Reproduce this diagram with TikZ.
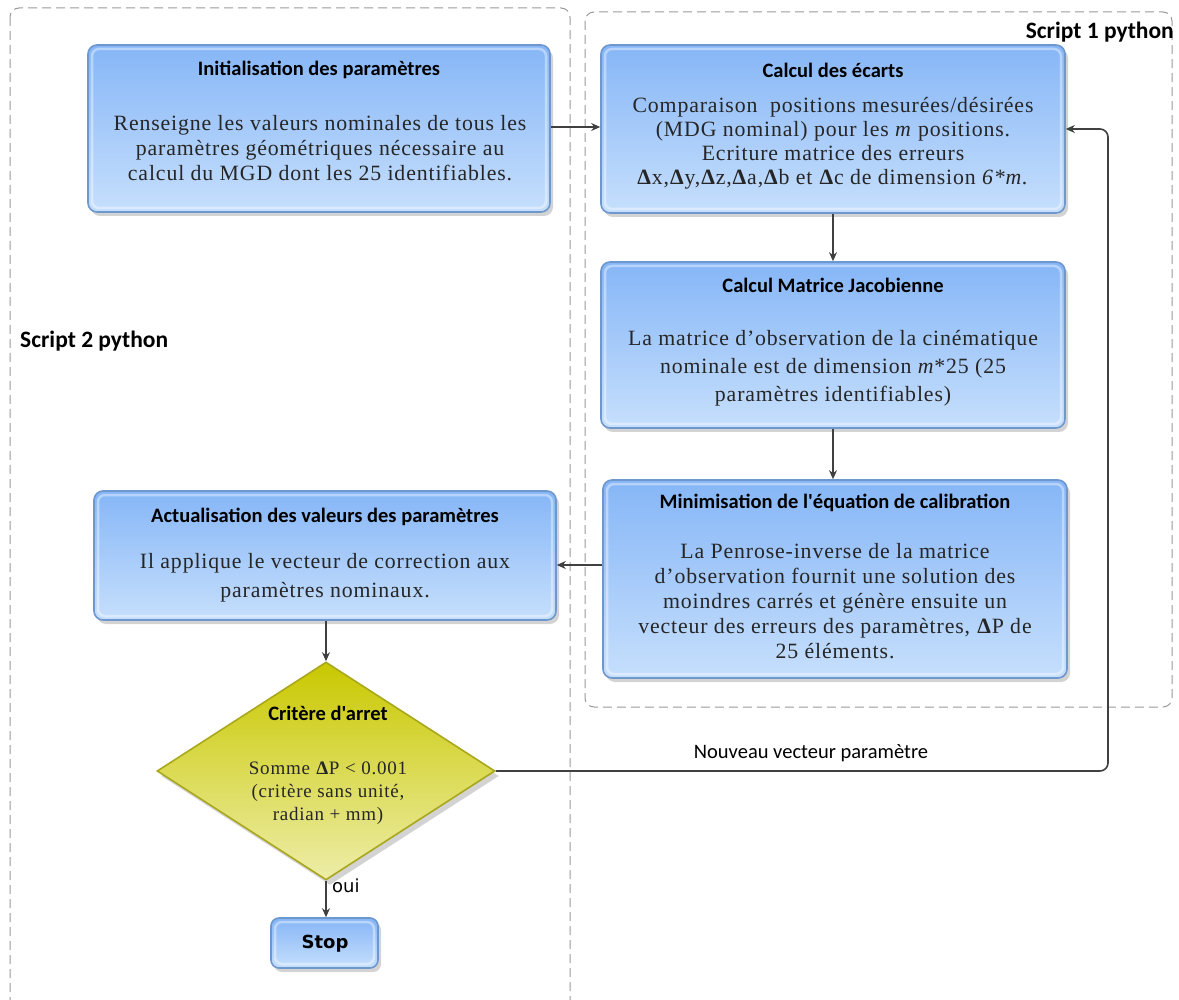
\documentclass[tikz,border=0pt]{standalone}
\usepackage{fontspec}
\setmainfont{Liberation Serif}[LetterSpace=4]
\newfontfamily\titlefont{Carlito}
\newfontfamily\dvfont{DejaVu Sans}
\usetikzlibrary{shapes.geometric,arrows.meta,shadows}
\definecolor{blueTop}{HTML}{86B6F7}
\definecolor{blueBot}{HTML}{C6DFFC}
\definecolor{blueEdge}{HTML}{6E97CE}
\definecolor{yelTop}{HTML}{C9C800}
\definecolor{yelBot}{HTML}{EDEDA8}
\definecolor{yelEdge}{HTML}{A9A71C}
\definecolor{frameGray}{HTML}{9A9A9A}
\definecolor{lineGray}{HTML}{404040}
\tikzset{
  bluebox/.style={rectangle, rounded corners=9pt, draw=blueEdge, line width=1.6pt,
    top color=blueTop, bottom color=blueBot, inner sep=0pt,
    drop shadow={opacity=0.35, shadow xshift=3pt, shadow yshift=-4pt},
    path picture={\draw[white, draw opacity=0.4, line width=2.5pt, rounded corners=7pt]
      ([shift={(4pt,-4pt)}]path picture bounding box.north west) rectangle
      ([shift={(-4pt,4pt)}]path picture bounding box.south east);}},
  yelbox/.style={diamond, draw=yelEdge, line width=1.6pt, inner sep=0pt,
    top color=yelTop, bottom color=yelBot,
    drop shadow={opacity=0.35, shadow xshift=4pt, shadow yshift=-5pt}},
  boxtitle/.style={font=\titlefont\bfseries\fontsize{20.5}{24}\selectfont, text=black, inner sep=0pt},
  boxbody/.style={font=\fontsize{21.8}{25}\selectfont, text=black!85, align=center, inner sep=0pt},
  framebox/.style={draw=frameGray, dashed, dash pattern=on 9pt off 5pt, line width=1pt, rounded corners=9pt},
  arr/.style={draw=lineGray, line width=1.6pt, -{Stealth[length=9pt,width=8pt]}},
  lbl/.style={font=\titlefont\fontsize{20.5}{24}\selectfont, inner sep=0pt},
  scriptlbl/.style={font=\titlefont\bfseries\fontsize{23.5}{26}\selectfont, inner sep=0pt},
}
\begin{document}
\begin{tikzpicture}[x=1pt,y=-1pt]
\useasboundingbox (0,0) rectangle (1179,1000);
% frames
\draw[framebox] (10,8) rectangle (570,1012);
\draw[framebox] (585,12) rectangle (1172,707);
\node[scriptlbl, anchor=east] (s1) at (1174,32) {Script 1 python};
\node[scriptlbl, anchor=west] (s2) at (20,341) {Script 2 python};

% boxes
\node[bluebox, minimum width=462pt, minimum height=167pt] (init) at (319,128.5) {};
\node[boxtitle] (initT) at (319,70) {Initialisation des paramètres};
\node[boxbody] (initB) at (320,148) {Renseigne les valeurs nominales de tous les\\paramètres géométriques nécessaire au\\calcul du MGD dont les 25 identifiables.};

\node[bluebox, minimum width=464pt, minimum height=168pt] (ecarts) at (833,129) {};
\node[boxtitle] (ecartsT) at (833,70) {Calcul des écarts};
\node[boxbody, font=\fontsize{21.8}{24}\selectfont] (ecartsB) at (833,143) {Comparaison\ \ positions mesurées/désirées\\(MDG nominal) pour les \textit{m} positions.\\Ecriture matrice des erreurs\\\textbf{Δ}x,\textbf{Δ}y,\textbf{Δ}z,\textbf{Δ}a,\textbf{Δ}b et \textbf{Δ}c de dimension \textit{6*m.}};

\node[bluebox, minimum width=464pt, minimum height=166pt] (jac) at (833,345) {};
\node[boxtitle] (jacT) at (833,285) {Calcul Matrice Jacobienne};
\node[boxbody, font=\fontsize{21.8}{28}\selectfont] (jacB) at (833,368) {La matrice d’observation de la cinématique\\nominale est de dimension \textit{m}*25 (25\\paramètres identifiables)};

\node[bluebox, minimum width=464pt, minimum height=198pt] (mini) at (835,579) {};
\node[boxtitle] (miniT) at (835,503) {Minimisation de l'équation de calibration};
\node[boxbody] (miniB) at (835,601) {La Penrose-inverse de la matrice\\d’observation fournit une solution des\\moindres carrés et génère ensuite un\\vecteur des erreurs des paramètres, \textbf{Δ}P de\\25 éléments.};

\node[bluebox, minimum width=462pt, minimum height=129pt] (act) at (325,555.5) {};
\node[boxtitle] (actT) at (325,517) {Actualisation des valeurs des paramètres};
\node[boxbody, font=\fontsize{21.8}{29}\selectfont] (actB) at (325,577.5) {Il applique le vecteur de correction aux\\paramètres nominaux.};

\node[yelbox, minimum width=338pt, minimum height=218pt] (dia) at (326,771) {};
\node[boxtitle] (diaT) at (328,713) {Critère d'arret};
\node[boxbody, font=\fontsize{19}{23}\selectfont] (diaB) at (328,793) {Somme \textbf{Δ}P < 0.001\\(critère sans unité,\\radian + mm)};

\node[bluebox, minimum width=107pt, minimum height=50pt, rounded corners=8pt] (stop) at (324.5,943) {};
\node[font=\dvfont\bfseries\fontsize{18}{21}\selectfont, inner sep=0pt] (stopT) at (325,944) {Stop};

% connectors
\draw[arr] (init.east |- 0,127) -- (ecarts.west |- 0,127);
\draw[arr] (ecarts.south) -- (jac.north);
\draw[arr] (jac.south) -- (jac.south |- mini.north);
\coordinate (mid) at (0,565);
\draw[arr] (mini.west |- mid) -- (act.east |- mid);
\draw[arr] (act.south -| dia.north) -- (dia.north);
\draw[arr] (dia.south) -- (stop.north -| dia.south);
\node[font=\dvfont\fontsize{18}{21}\selectfont, anchor=west, inner sep=0pt] (oui) at (332,886) {oui};
\coordinate (loopx) at (1108,0);
\draw[arr, rounded corners=8pt] (dia.east) -- (dia.east -| loopx) -- (loopx |- ecarts.east) -- (ecarts.east);
\node[lbl] (nv) at (811,753) {Nouveau vecteur paramètre};
\end{tikzpicture}
\end{document}
